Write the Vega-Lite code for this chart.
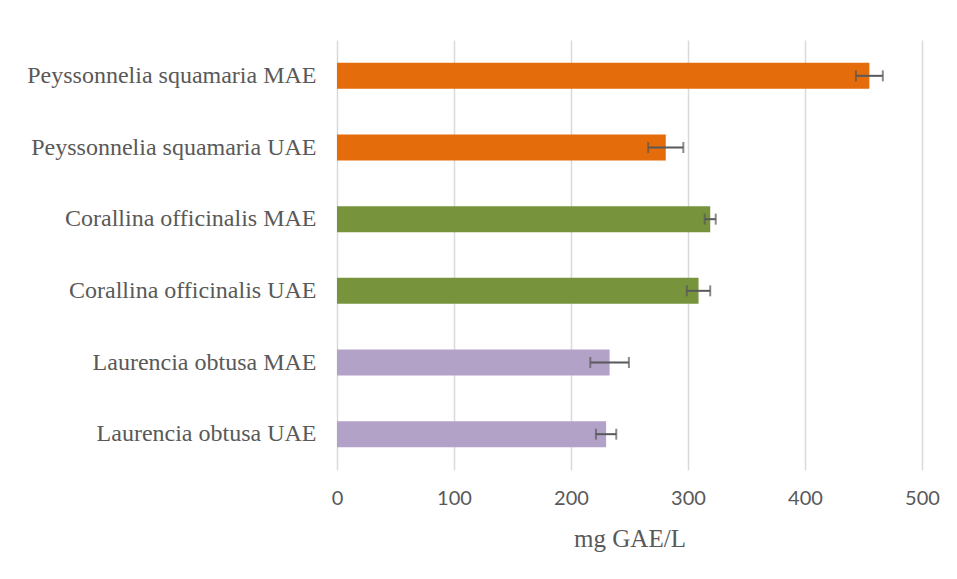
{
  "$schema": "https://vega.github.io/schema/vega-lite/v6.json",
  "width": 585,
  "height": 430,
  "autosize": "none",
  "padding": {"left": 337, "top": 40, "right": 35, "bottom": 109},
  "background": "white",
  "config": {"view": {"stroke": null}},
  "data": {
    "values": [
      {"sample": "Peyssonnelia squamaria MAE", "species": "Peyssonnelia", "value": 455, "err": 11.5},
      {"sample": "Peyssonnelia squamaria UAE", "species": "Peyssonnelia", "value": 281, "err": 15},
      {"sample": "Corallina officinalis MAE", "species": "Corallina", "value": 319, "err": 4.7},
      {"sample": "Corallina officinalis UAE", "species": "Corallina", "value": 309, "err": 10},
      {"sample": "Laurencia obtusa MAE", "species": "Laurencia", "value": 233, "err": 16.5},
      {"sample": "Laurencia obtusa UAE", "species": "Laurencia", "value": 230, "err": 8.7}
    ]
  },
  "encoding": {
    "y": {
      "field": "sample",
      "type": "nominal",
      "sort": null,
      "scale": {"paddingInner": 0.637, "paddingOuter": 0.3185},
      "axis": {
        "title": null,
        "domain": false,
        "ticks": false,
        "labelFont": "Liberation Serif",
        "labelFontSize": 24,
        "labelColor": "#595959",
        "labelPadding": 21,
        "labelLimit": 400
      }
    }
  },
  "layer": [
    {
      "mark": {"type": "bar"},
      "encoding": {
        "x": {
          "field": "value",
          "type": "quantitative",
          "title": "mg GAE/L",
          "scale": {"domain": [0, 500], "nice": false},
          "axis": {
            "values": [0, 100, 200, 300, 400, 500],
            "title": "mg GAE/L",
            "titleFont": "Liberation Serif",
            "titleFontSize": 25,
            "titleFontWeight": "normal",
            "titleColor": "#595959",
            "titlePadding": 18,
            "grid": true,
            "gridColor": "#d9d9d9",
            "gridWidth": 1.5,
            "domain": false,
            "ticks": false,
            "labelFlush": false,
            "labelFont": "Lato",
            "labelFontSize": 20,
            "labelColor": "#595959",
            "labelPadding": 18
          }
        },
        "color": {
          "field": "species",
          "type": "nominal",
          "scale": {
            "domain": ["Peyssonnelia", "Corallina", "Laurencia"],
            "range": ["#e46c0a", "#77933c", "#b3a2c7"]
          },
          "legend": null
        }
      }
    },
    {
      "mark": {
        "type": "errorbar",
        "color": "#595959",
        "thickness": 2,
        "ticks": {"size": 11, "thickness": 2, "color": "#595959"}
      },
      "encoding": {
        "x": {"field": "value", "type": "quantitative", "title": "mg GAE/L"},
        "xError": {"field": "err"}
      }
    }
  ]
}
